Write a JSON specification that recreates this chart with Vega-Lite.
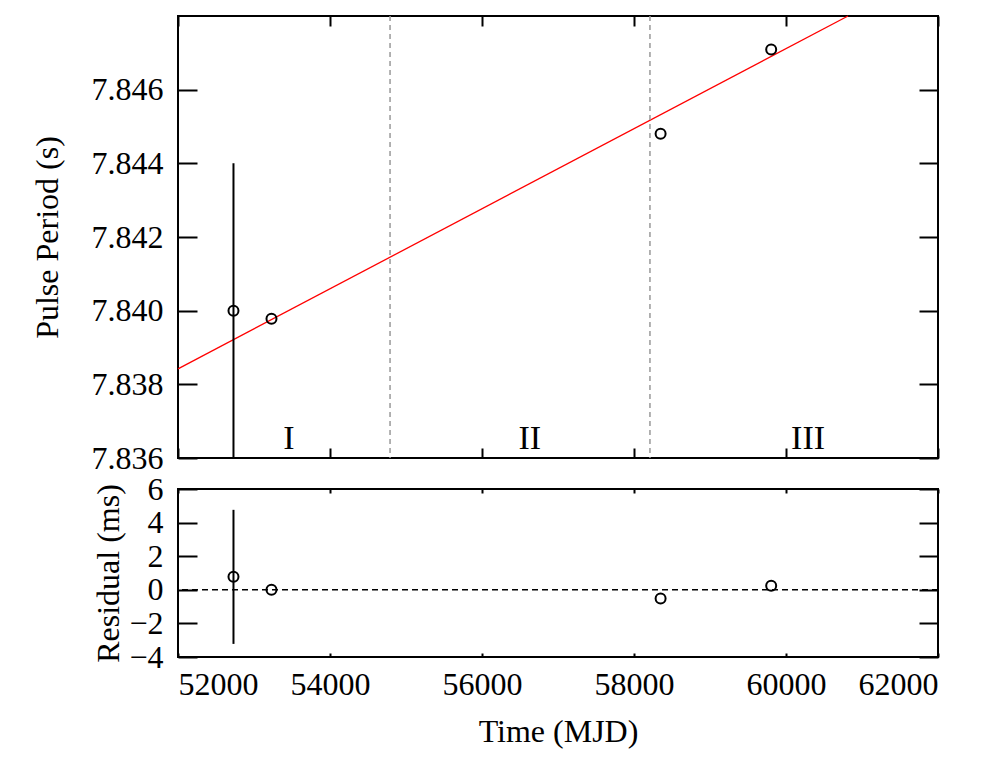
{
  "$schema": "https://vega.github.io/schema/vega-lite/v6.json",
  "background": "white",
  "padding": {"left": 30, "top": 12, "right": 48, "bottom": 10},
  "autosize": {"type": "pad"},
  "bounds": "flush",
  "spacing": 31,
  "datasets": {
    "period": [
      {"t": 52730, "p": 7.8400, "lo": 7.8360, "hi": 7.8440},
      {"t": 53230, "p": 7.83978},
      {"t": 58350, "p": 7.8448},
      {"t": 59805, "p": 7.84709}
    ],
    "fit": [
      {"t": 52000, "p": 7.83842},
      {"t": 60816, "p": 7.848}
    ],
    "bounds": [
      {"t": 54790},
      {"t": 58210}
    ],
    "phases": [
      {"label": "I", "t": 53460, "p": 7.83625},
      {"label": "II", "t": 56630, "p": 7.83625},
      {"label": "III", "t": 60290, "p": 7.83625}
    ],
    "resid": [
      {"t": 52730, "r": 0.77, "lo": -3.22, "hi": 4.76},
      {"t": 53230, "r": 0.0},
      {"t": 58350, "r": -0.52},
      {"t": 59805, "r": 0.24}
    ],
    "zero": [{"r": 0}]
  },
  "config": {
    "font": "Liberation Serif",
    "view": {"stroke": "black", "strokeWidth": 2},
    "axis": {
      "domain": false,
      "grid": false,
      "tickColor": "black",
      "tickWidth": 2,
      "labelFont": "Liberation Serif",
      "labelFontSize": 32,
      "labelColor": "black",
      "titleFont": "Liberation Serif",
      "titleFontSize": 32,
      "titleFontWeight": "normal",
      "titleColor": "black"
    }
  },
  "vconcat": [
    {
      "width": 760,
      "height": 442,
      "resolve": {"axis": {"x": "independent", "y": "independent"}},
      "layer": [
        {
          "data": {"name": "fit"},
          "mark": {"type": "line", "color": "#ff0000", "strokeWidth": 1.3},
          "encoding": {
            "x": {"field": "t", "type": "quantitative", "scale": {"domain": [52000, 62000], "nice": false, "zero": false},
                  "axis": {"orient": "bottom", "values": [52000, 54000, 56000, 58000, 60000, 62000], "labels": false, "tickSize": -10, "title": null}},
            "y": {"field": "p", "type": "quantitative", "scale": {"domain": [7.836, 7.848], "nice": false, "zero": false},
                  "axis": {"orient": "left", "values": [7.836, 7.838, 7.840, 7.842, 7.844, 7.846], "format": ".3f", "tickSize": -19, "labelPadding": 34, "title": "Pulse Period (s)", "titlePadding": 27}}
          }
        },
        {
          "data": {"name": "bounds"},
          "mark": {"type": "rule", "color": "#999999", "strokeWidth": 1.5, "strokeDash": [5, 4]},
          "encoding": {
            "x": {"field": "t", "type": "quantitative", "scale": {"domain": [52000, 62000], "nice": false, "zero": false}, "axis": null}
          }
        },
        {
          "data": {"name": "period"},
          "mark": {"type": "rule", "color": "black", "strokeWidth": 2},
          "encoding": {
            "x": {"field": "t", "type": "quantitative", "scale": {"domain": [52000, 62000], "nice": false, "zero": false}, "axis": null},
            "y": {"field": "lo", "type": "quantitative", "scale": {"domain": [7.836, 7.848], "nice": false, "zero": false}, "axis": null},
            "y2": {"field": "hi"}
          }
        },
        {
          "data": {"name": "period"},
          "mark": {"type": "point", "shape": "circle", "filled": false, "color": "black", "opacity": 1, "strokeWidth": 2, "size": 100},
          "encoding": {
            "x": {"field": "t", "type": "quantitative", "scale": {"domain": [52000, 62000], "nice": false, "zero": false},
                  "axis": {"orient": "top", "values": [52000, 54000, 56000, 58000, 60000, 62000], "labels": false, "tickSize": -10, "title": null}},
            "y": {"field": "p", "type": "quantitative", "scale": {"domain": [7.836, 7.848], "nice": false, "zero": false},
                  "axis": {"orient": "right", "values": [7.836, 7.838, 7.840, 7.842, 7.844, 7.846], "labels": false, "tickSize": -19, "title": null}}
          }
        },
        {
          "data": {"name": "phases"},
          "mark": {"type": "text", "font": "Liberation Serif", "fontSize": 34, "baseline": "alphabetic", "align": "center", "color": "black"},
          "encoding": {
            "x": {"field": "t", "type": "quantitative", "scale": {"domain": [52000, 62000], "nice": false, "zero": false}, "axis": null},
            "y": {"field": "p", "type": "quantitative", "scale": {"domain": [7.836, 7.848], "nice": false, "zero": false}, "axis": null},
            "text": {"field": "label"}
          }
        }
      ]
    },
    {
      "width": 760,
      "height": 168,
      "resolve": {"axis": {"x": "independent", "y": "independent"}},
      "layer": [
        {
          "data": {"name": "zero"},
          "mark": {"type": "rule", "color": "black", "strokeWidth": 1.5, "strokeDash": [6, 4]},
          "encoding": {
            "y": {"field": "r", "type": "quantitative", "scale": {"domain": [-4, 6], "nice": false, "zero": false}, "axis": null}
          }
        },
        {
          "data": {"name": "resid"},
          "mark": {"type": "rule", "color": "black", "strokeWidth": 2},
          "encoding": {
            "x": {"field": "t", "type": "quantitative", "scale": {"domain": [52000, 62000], "nice": false, "zero": false}, "axis": null},
            "y": {"field": "lo", "type": "quantitative", "scale": {"domain": [-4, 6], "nice": false, "zero": false}, "axis": null},
            "y2": {"field": "hi"}
          }
        },
        {
          "data": {"name": "resid"},
          "mark": {"type": "point", "shape": "circle", "filled": false, "color": "black", "opacity": 1, "strokeWidth": 2, "size": 100},
          "encoding": {
            "x": {"field": "t", "type": "quantitative", "scale": {"domain": [52000, 62000], "nice": false, "zero": false},
                  "axis": {"orient": "bottom", "values": [52000, 54000, 56000, 58000, 60000, 62000], "format": "d", "tickSize": -4, "labelPadding": 16, "title": "Time (MJD)", "titlePadding": 16}},
            "y": {"field": "r", "type": "quantitative", "scale": {"domain": [-4, 6], "nice": false, "zero": false},
                  "axis": {"orient": "left", "values": [-4, -2, 0, 2, 4, 6], "format": "d", "tickSize": -19, "labelPadding": 34, "title": "Residual (ms)", "titlePadding": 3}}
          }
        },
        {
          "data": {"name": "resid"},
          "mark": {"type": "point", "opacity": 0},
          "encoding": {
            "x": {"field": "t", "type": "quantitative", "scale": {"domain": [52000, 62000], "nice": false, "zero": false},
                  "axis": {"orient": "top", "values": [52000, 54000, 56000, 58000, 60000, 62000], "labels": false, "tickSize": -4, "title": null}},
            "y": {"field": "r", "type": "quantitative", "scale": {"domain": [-4, 6], "nice": false, "zero": false},
                  "axis": {"orient": "right", "values": [-4, -2, 0, 2, 4, 6], "labels": false, "tickSize": -19, "title": null}}
          }
        }
      ]
    }
  ]
}
